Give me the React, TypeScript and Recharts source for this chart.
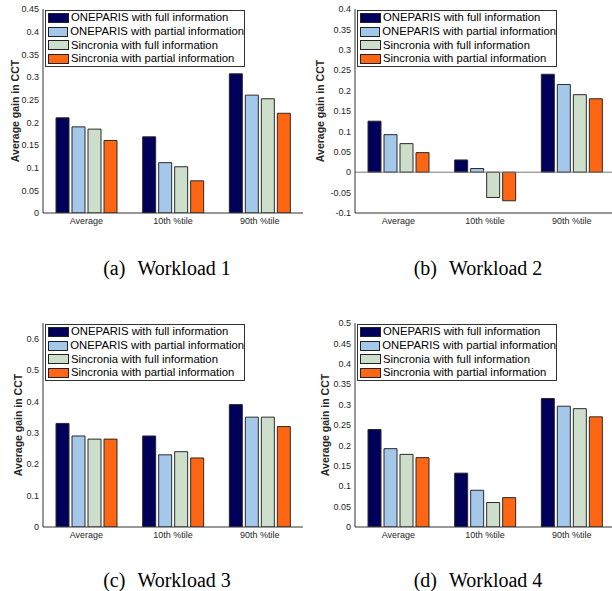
import React from 'react';
import { BarChart, Bar, XAxis, YAxis, Legend, ReferenceLine } from 'recharts';

// categories and series
const categories = ['Average', '10th %tile', '90th %tile'];
const seriesNames = [
  'ONEPARIS with full information',
  'ONEPARIS with partial information',
  'Sincronia with full information',
  'Sincronia with partial information',
];
const seriesKeys = ['opFull', 'opPartial', 'sinFull', 'sinPartial'];
const seriesColors = ['#00005a', '#a3c8ea', '#cddfcb', '#ff6614'];

// Workload 1
const w1OpFull = [0.21, 0.168, 0.307];
const w1OpPartial = [0.19, 0.111, 0.26];
const w1SinFull = [0.185, 0.102, 0.252];
const w1SinPartial = [0.16, 0.071, 0.22];

// Workload 2
const w2OpFull = [0.125, 0.03, 0.24];
const w2OpPartial = [0.092, 0.009, 0.215];
const w2SinFull = [0.07, -0.062, 0.19];
const w2SinPartial = [0.048, -0.07, 0.18];

// Workload 3
const w3OpFull = [0.33, 0.29, 0.39];
const w3OpPartial = [0.29, 0.23, 0.35];
const w3SinFull = [0.28, 0.24, 0.35];
const w3SinPartial = [0.28, 0.22, 0.32];

// Workload 4
const w4OpFull = [0.239, 0.132, 0.315];
const w4OpPartial = [0.192, 0.09, 0.296];
const w4SinFull = [0.178, 0.06, 0.29];
const w4SinPartial = [0.17, 0.072, 0.27];

// y ticks
const ticksW1 = [0, 0.05, 0.1, 0.15, 0.2, 0.25, 0.3, 0.35, 0.4, 0.45];
const ticksW2 = [-0.1, -0.05, 0, 0.05, 0.1, 0.15, 0.2, 0.25, 0.3, 0.35, 0.4];
const ticksW3 = [0, 0.1, 0.2, 0.3, 0.4, 0.5, 0.6];
const ticksW4 = [0, 0.05, 0.1, 0.15, 0.2, 0.25, 0.3, 0.35, 0.4, 0.45, 0.5];

const buildRows = (a: number[], b: number[], c: number[], d: number[]) =>
  categories.map((name, i) => ({ name, opFull: a[i], opPartial: b[i], sinFull: c[i], sinPartial: d[i] }));

const SANS = '"Liberation Sans", Arial, Helvetica, sans-serif';
const AXIS = '#333333';

const LegendBox = () => (
  <div
    style={{
      width: 198,
      background: '#fff',
      border: `1px solid ${AXIS}`,
      fontFamily: SANS,
      fontSize: 11.3,
      color: '#000',
    }}
  >
    {seriesNames.map((n, i) => (
      <div key={n} style={{ display: 'flex', alignItems: 'center', height: 13.7 }}>
        <div
          style={{
            width: 19,
            height: 8,
            marginLeft: 2,
            marginRight: 2,
            background: seriesColors[i],
            border: '1px solid #222',
          }}
        />
        <span style={{ whiteSpace: 'nowrap', lineHeight: '13px' }}>{n}</span>
      </div>
    ))}
  </div>
);

type PanelProps = {
  rows: ReturnType<typeof buildRows>;
  domain: [number, number];
  ticks: number[];
  left: number;
  top: number;
  labelOffset: number;
  zeroLine?: boolean;
};

const Panel: React.FC<PanelProps> = ({ rows, domain, ticks, left, top, labelOffset, zeroLine }) => (
  <div style={{ position: 'absolute', left, top }}>
    <BarChart
      width={306}
      height={240}
      data={rows}
      margin={{ top: 9, right: 3, bottom: 0, left: 0 }}
      barCategoryGap="15%"
      barGap={3}
    >
      <XAxis
        xAxisId="b"
        dataKey="name"
        height={27}
        tickLine={false}
        tickSize={0}
        tickMargin={5}
        axisLine={{ stroke: AXIS }}
        tick={{ fontSize: 9, fill: '#262626', fontFamily: SANS }}
        interval={0}
      />
      <XAxis xAxisId="bm" dataKey="name" mirror height={0} tick={false} tickSize={3} axisLine={false} tickLine={{ stroke: AXIS }} />
      <XAxis xAxisId="t" dataKey="name" orientation="top" mirror height={0} tick={false} tickSize={3} axisLine={{ stroke: AXIS }} tickLine={{ stroke: AXIS }} />
      <YAxis
        yAxisId="l"
        type="number"
        domain={domain}
        ticks={ticks}
        width={43}
        tickLine={false}
        tickSize={0}
        tickMargin={4}
        axisLine={{ stroke: AXIS }}
        tick={{ fontSize: 9, fill: '#262626', fontFamily: SANS }}
        allowDataOverflow
        label={{
          value: 'Average gain in CCT',
          angle: -90,
          position: 'insideLeft',
          offset: labelOffset,
          style: { textAnchor: 'middle', fontSize: 10.5, fontWeight: 'bold', fill: '#262626', fontFamily: SANS },
        }}
      />
      <YAxis yAxisId="lm" type="number" domain={domain} ticks={ticks} mirror width={0} tick={false} tickSize={3} axisLine={false} tickLine={{ stroke: AXIS }} allowDataOverflow />
      <YAxis yAxisId="r" orientation="right" type="number" domain={domain} ticks={ticks} mirror width={0} tick={false} tickSize={3} axisLine={{ stroke: AXIS }} tickLine={{ stroke: AXIS }} allowDataOverflow />
      {zeroLine && <ReferenceLine xAxisId="b" yAxisId="l" y={0} stroke="#777" strokeWidth={1} />}
      {seriesKeys.map((k, i) => (
        <Bar
          key={k}
          xAxisId="b"
          yAxisId="l"
          dataKey={k}
          name={seriesNames[i]}
          fill={seriesColors[i]}
          stroke="#2a2a2a"
          strokeWidth={1}
          isAnimationActive={false}
        />
      ))}
      <Legend
        layout="vertical"
        align="center"
        verticalAlign="middle"
        content={() => <LegendBox />}
        wrapperStyle={{ left: 45, top: 10, width: 200 }}
      />
    </BarChart>
  </div>
);

const captionStyle: React.CSSProperties = {
  position: 'absolute',
  width: 200,
  textAlign: 'center',
  fontFamily: '"Liberation Serif", "Times New Roman", serif',
  fontSize: 20,
  lineHeight: '24px',
  color: '#000',
  whiteSpace: 'nowrap',
};

const Caption = ({ tag, text, cx, cy }: { tag: string; text: string; cx: number; cy: number }) => (
  <div style={{ ...captionStyle, left: cx - 100, top: cy - 12 }}>
    {tag}
    <span style={{ marginLeft: 12 }}>{text}</span>
  </div>
);

export default function App() {
  return (
    <div
      style={{
        position: 'absolute',
        left: 0,
        top: 0,
        width: 612,
        height: 591,
        overflow: 'hidden',
        background: '#fff',
      }}
    >
      <Panel rows={buildRows(w1OpFull, w1OpPartial, w1SinFull, w1SinPartial)} domain={[0, 0.45]} ticks={ticksW1} left={0} top={0} labelOffset={15} />
      <Panel rows={buildRows(w2OpFull, w2OpPartial, w2SinFull, w2SinPartial)} domain={[-0.1, 0.4]} ticks={ticksW2} left={312} top={0} labelOffset={8} zeroLine />
      <Panel rows={buildRows(w3OpFull, w3OpPartial, w3SinFull, w3SinPartial)} domain={[0, 0.65]} ticks={ticksW3} left={0} top={314} labelOffset={18} />
      <Panel rows={buildRows(w4OpFull, w4OpPartial, w4SinFull, w4SinPartial)} domain={[0, 0.5]} ticks={ticksW4} left={312} top={314} labelOffset={13} />
      <Caption tag="(a)" text="Workload 1" cx={167} cy={268} />
      <Caption tag="(b)" text="Workload 2" cx={478} cy={268} />
      <Caption tag="(c)" text="Workload 3" cx={167} cy={580} />
      <Caption tag="(d)" text="Workload 4" cx={478} cy={580} />
    </div>
  );
}
